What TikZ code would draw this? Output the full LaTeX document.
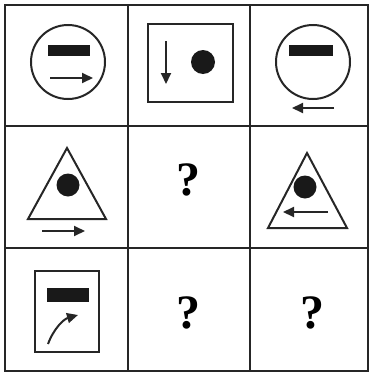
\documentclass[tikz,border=0pt]{standalone}
\usepackage{fontspec}
\setmainfont{Liberation Serif}
\usetikzlibrary{arrows.meta}
\tikzset{
  gridline/.style={line width=2.2pt, draw=black!85},
  outline/.style={line width=2pt, draw=black!85},
  bar/.style={fill=black!90},
  dot/.style={fill=black!90},
  arr/.style={line width=2pt, draw=black!85, -{Triangle[length=11pt,width=10pt]}},
  qm/.style={font=\bfseries\fontsize{48}{48}\selectfont, inner sep=0pt}
}
\begin{document}
\begin{tikzpicture}[x=1pt,y=-1pt]
\useasboundingbox (0,0) rectangle (372,375);
% grid
\draw[gridline] (5,5) rectangle (368,371);
\draw[gridline] (128,5) -- (128,371);
\draw[gridline] (250,5) -- (250,371);
\draw[gridline] (5,126) -- (368,126);
\draw[gridline] (5,248) -- (368,248);
% cell 1
\draw[outline] (68,62) circle (37);
\fill[bar] (48,45) rectangle (90,56);
\coordinate (a1s) at (50,78); \coordinate (a1e) at (93,78);
\draw[arr] (a1s) -- (a1e);
% cell 2
\draw[outline] (148,24) rectangle (233,102);
\coordinate (a2s) at (166,41); \coordinate (a2e) at (166,84);
\draw[arr] (a2s) -- (a2e);
\fill[dot] (203,62) circle (12);
% cell 3
\draw[outline] (313,62) circle (37);
\fill[bar] (289,45) rectangle (333,56);
\coordinate (a3s) at (334,108); \coordinate (a3e) at (292,108);
\draw[arr] (a3s) -- (a3e);
% row 2 cell 1
\draw[outline] (67,148) -- (106,219) -- (28,219) -- cycle;
\fill[dot] (68,185) circle (11.5);
\coordinate (a4s) at (42,231); \coordinate (a4e) at (85,231);
\draw[arr] (a4s) -- (a4e);
% row 2 cell 2
\node[qm] (q1) at (188,180) {?};
% row 2 cell 3
\draw[outline] (307,153) -- (347,228) -- (268,228) -- cycle;
\fill[dot] (305,187) circle (11.5);
\coordinate (a5s) at (328,212); \coordinate (a5e) at (283,212);
\draw[arr] (a5s) -- (a5e);
% row 3 cell 1
\draw[outline] (35,271) rectangle (99,352);
\fill[bar] (47,288) rectangle (89,302);
\coordinate (a6s) at (48,344); \coordinate (a6e) at (78,315);
\draw[arr] (a6s) .. controls (54,328) and (64,319) .. (a6e);
% row 3 questions
\node[qm] (q2) at (188,313) {?};
\node[qm] (q3) at (312,313) {?};
\end{tikzpicture}
\end{document}
